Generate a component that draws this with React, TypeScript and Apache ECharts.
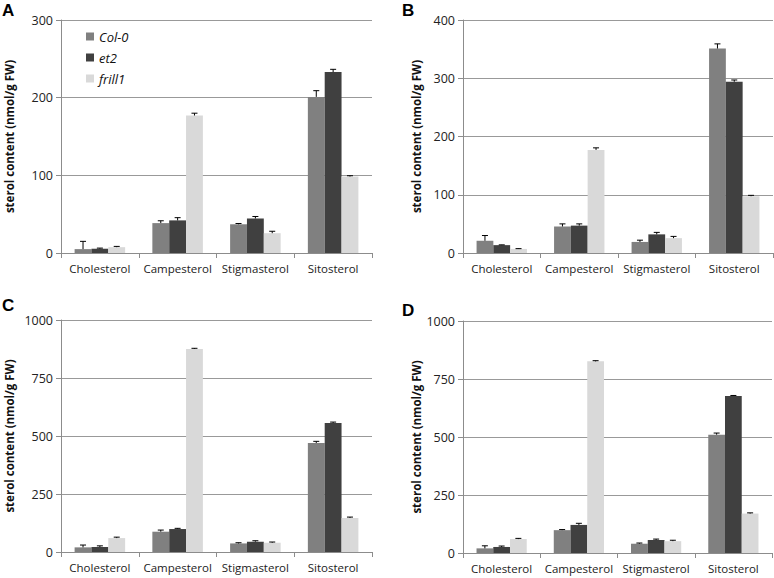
import React, { useEffect, useRef } from "react";
import * as echarts from "echarts";

const categories = ["Cholesterol", "Campesterol", "Stigmasterol", "Sitosterol"];
const seriesNames = ["Col-0", "et2", "frill1"];
const colors = ["#808080", "#404040", "#d9d9d9"];

// Panel A
const aCol0 = [5, 38.5, 37, 201];
const aEt2 = [5.5, 42, 44.5, 233];
const aFrill1 = [7.5, 177, 25.5, 98.5];
const aCol0Err = [10, 3, 1, 8];
const aEt2Err = [0.8, 3.5, 2.5, 3.5];
const aFrill1Err = [1, 3, 2.5, 1];

// Panel B
const bCol0 = [21, 45.5, 19, 351];
const bEt2 = [13.5, 47, 32, 294];
const bFrill1 = [7, 177, 25.5, 97.5];
const bCol0Err = [9, 4.5, 3, 8];
const bEt2Err = [0.5, 3, 3.4, 3];
const bFrill1Err = [0.5, 3.5, 3, 1.5];

// Panel C
const cCol0 = [20, 87.5, 37, 470];
const cEt2 = [21.5, 99, 44.5, 556];
const cFrill1 = [60, 875, 40, 146.5];
const cCol0Err = [10, 7, 3, 7];
const cEt2Err = [5, 3, 4, 4];
const cFrill1Err = [4, 3, 3, 4];

// Panel D
const dCol0 = [20, 98.5, 40, 510];
const dEt2 = [26, 121, 56, 677];
const dFrill1 = [60, 826, 51, 170];
const dCol0Err = [11, 2.5, 3, 7];
const dEt2Err = [4, 7, 4, 2];
const dFrill1Err = [3, 3, 4, 3];

const yMaxes = [300, 400, 1000, 1000];
const yIntervals = [100, 100, 250, 250];
const panelLetters = ["A", "B", "C", "D"];
const yAxisName = "sterol content (nmol/g FW)";

const panels = [
  { vals: [aCol0, aEt2, aFrill1], errs: [aCol0Err, aEt2Err, aFrill1Err] },
  { vals: [bCol0, bEt2, bFrill1], errs: [bCol0Err, bEt2Err, bFrill1Err] },
  { vals: [cCol0, cEt2, cFrill1], errs: [cCol0Err, cEt2Err, cFrill1Err] },
  { vals: [dCol0, dEt2, dFrill1], errs: [dCol0Err, dEt2Err, dFrill1Err] },
];

const CAT_GAP = 0.35;
const FONT = "'Open Sans', sans-serif";

export default function App() {
  const ref = useRef<HTMLDivElement>(null);
  useEffect(() => {
    if (!ref.current) return;
    const chart = echarts.init(ref.current, null, { renderer: "svg" });

    const grids = [
      { left: 61, top: 20, width: 311, height: 233 },
      { left: 463, top: 20, width: 310, height: 233 },
      { left: 61, top: 320, width: 311, height: 232 },
      { left: 463, top: 321, width: 309, height: 232 },
    ];
    const nameGaps = [46, 41, 46, 41];

    const xAxes = grids.map((_, i) => ({
      type: "category",
      gridIndex: i,
      data: categories,
      axisLine: { lineStyle: { color: "#8c8c8c", width: 1 } },
      axisTick: { show: true, length: 5, lineStyle: { color: "#8c8c8c" } },
      axisLabel: { interval: 0, color: "#222", fontSize: 11.5, fontFamily: FONT, margin: 9 },
    }));
    const yAxes = grids.map((_, i) => ({
      type: "value",
      gridIndex: i,
      min: 0,
      max: yMaxes[i],
      interval: yIntervals[i],
      name: yAxisName,
      nameLocation: "middle",
      nameGap: nameGaps[i],
      nameTextStyle: { fontSize: 11.5, fontWeight: "bold", color: "#111", fontFamily: FONT },
      axisLine: { show: true, lineStyle: { color: "#8c8c8c", width: 1 } },
      axisTick: { show: true, length: 5, lineStyle: { color: "#8c8c8c" } },
      axisLabel: {
        color: "#222",
        fontSize: 12.5,
        fontFamily: FONT,
        margin: 8,
        formatter: (v: number) => String(v),
      },
      splitLine: { show: true, lineStyle: { color: "#999", width: 1 } },
    }));

    const series: any[] = [];
    panels.forEach((p, gi) => {
      p.vals.forEach((v, si) => {
        series.push({
          type: "bar",
          name: seriesNames[si],
          xAxisIndex: gi,
          yAxisIndex: gi,
          data: v,
          barGap: "0%",
          barCategoryGap: CAT_GAP * 100 + "%",
          itemStyle: { color: colors[si] },
        });
      });
      const errData: number[][] = [];
      p.vals.forEach((v, si) => {
        v.forEach((val, ci) => {
          errData.push([ci, si, val, p.errs[si][ci]]);
        });
      });
      series.push({
        type: "custom",
        xAxisIndex: gi,
        yAxisIndex: gi,
        z: 5,
        encode: { x: 0, y: 2 },
        data: errData,
        renderItem: (params: any, api: any) => {
          const ci = api.value(0);
          const si = api.value(1);
          const val = api.value(2);
          const err = api.value(3);
          const band = api.size([1, 0])[0];
          const bw = (band * (1 - CAT_GAP)) / 3;
          const base = api.coord([ci, val]);
          const top = api.coord([ci, val + err]);
          const x = base[0] - (band * (1 - CAT_GAP)) / 2 + bw * (si + 0.5);
          const cap = 3;
          const style = { stroke: "#000", lineWidth: 1 };
          return {
            type: "group",
            children: [
              { type: "line", shape: { x1: x, y1: base[1], x2: x, y2: top[1] }, style },
              { type: "line", shape: { x1: x - cap, y1: top[1], x2: x + cap, y2: top[1] }, style },
            ],
          };
        },
      });
    });

    const letterPos = [
      [2, 2],
      [402, 2],
      [2, 297],
      [402, 302],
    ];

    chart.setOption({
      animation: false,
      backgroundColor: "#fff",
      grid: grids,
      xAxis: xAxes,
      yAxis: yAxes,
      legend: {
        data: seriesNames,
        orient: "vertical",
        left: 81,
        top: 25,
        itemWidth: 8,
        itemHeight: 8,
        itemGap: 8,
        icon: "rect",
        textStyle: { fontStyle: "italic", fontSize: 13, color: "#111", fontFamily: FONT },
      },
      graphic: panelLetters.map((l, i) => ({
        type: "text",
        left: letterPos[i][0],
        top: letterPos[i][1],
        style: {
          text: l,
          font: "bold 17px 'Liberation Sans', Arial, sans-serif",
          fill: "#000",
        },
      })),
      series,
    });

    return () => chart.dispose();
  }, []);

  return (
    <div
      ref={ref}
      style={{ position: "fixed", left: 0, top: 0, width: 774, height: 578 }}
    />
  );
}
